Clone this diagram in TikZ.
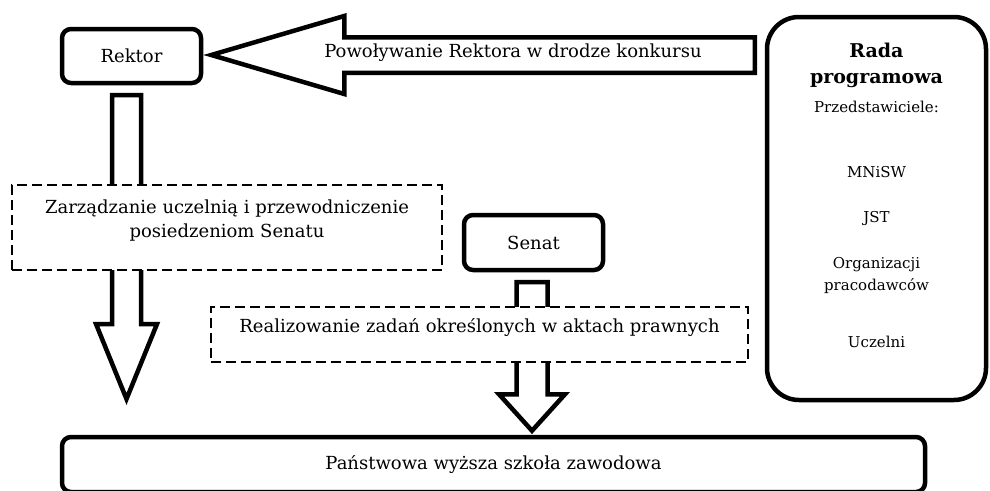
\documentclass[tikz,border=0pt]{standalone}
\usepackage{fontspec}
\setmainfont{DejaVu Serif}
\usepackage{tikz}
\usetikzlibrary{calc,positioning}

\newcommand{\lbl}{\fontsize{18pt}{24pt}\selectfont}
\newcommand{\radalbl}{\fontsize{15pt}{22pt}\selectfont}
\newcommand{\radahead}{\fontsize{19pt}{22pt}\selectfont\bfseries}

% block arrows: #1 tail, #2 tip, #3 half shaft, #4 half head, #5 head length
\newcommand{\leftblockarrow}[5]{%
  \draw[blockarrow] let \p1=(#1), \p2=(#2) in
    (\x1,\y1+#3) -- (\x2+#5,\y1+#3) -- (\x2+#5,\y1+#4) -- (\x2,\y1)
    -- (\x2+#5,\y1-#4) -- (\x2+#5,\y1-#3) -- (\x1,\y1-#3) -- cycle;}
\newcommand{\downblockarrow}[5]{%
  \draw[blockarrow] let \p1=(#1), \p2=(#2) in
    (\x1-#3,\y1) -- (\x1-#3,\y2+#5) -- (\x1-#4,\y2+#5) -- (\x1,\y2)
    -- (\x1+#4,\y2+#5) -- (\x1+#3,\y2+#5) -- (\x1+#3,\y1) -- cycle;}

\tikzset{
  box/.style={draw, line width=4.5pt, rounded corners=9pt, fill=white, align=center, inner sep=0pt},
  dashbox/.style={draw, line width=1.3pt, dash pattern=on 10pt off 5pt, fill=white, align=center, inner sep=0pt},
  blockarrow/.style={draw, line width=4.5pt, fill=white, line join=miter},
}

\begin{document}
\begin{tikzpicture}[x=1pt, y=-1pt, font=\lbl]
\useasboundingbox (0,0) rectangle (990,490);

% Boxes
\node[box, minimum width=139pt, minimum height=54pt] (rektor) at (131.5,56) {Rektor};
\node[box, rounded corners=32pt, minimum width=219pt, minimum height=383pt] (rada) at (876.5,208.5) {};
\node[box, minimum width=139pt, minimum height=55pt] (senat) at (533.5,242.5) {Senat};
\node[box, minimum width=863pt, minimum height=55pt] (szkola) at (493.5,464.5) {Państwowa wyższa szkoła zawodowa};

% Arrows
\coordinate (powtail) at (754.75,55);
\coordinate (powtip) at ($(rektor.east)+(8,0)$);
\leftblockarrow{powtail}{powtip}{17.75pt}{39pt}{133pt}

\coordinate (rektorout) at (126.5,95);
\coordinate (rektortip) at (126.5,399);
\downblockarrow{rektorout}{rektortip}{14.5pt}{30.5pt}{75pt}

\coordinate (senatout) at (532,282);
\coordinate (senattip) at ($(szkola.north -| senatout)+(0,-4)$);
\downblockarrow{senatout}{senattip}{15.5pt}{33pt}{36.5pt}

% Dashed boxes
\node[dashbox, minimum width=430pt, minimum height=85pt] (zarz) at (227,227.5)
  {Zarządzanie uczelnią i przewodniczenie\\posiedzeniom Senatu\\[-6pt]\mbox{}};
\node[dashbox, minimum width=537pt, minimum height=55pt] (real) at (479.5,334.5)
  {Realizowanie zadań określonych w aktach prawnych\\[-6pt]\mbox{}};

% Texts
\node (powtxt) at (513,53) {Powoływanie Rektora w drodze konkursu};
\node[font=\radalbl, align=center, anchor=north] (radatxt) at (rada.north |- 0,40)
  {{\radahead Rada}\\[4pt]{\radahead programowa}\\[7pt]Przedstawiciele:\\[43pt]MNiSW\\[23pt]JST\\[24pt]Organizacji\\pracodawców\\[35pt]Uczelni};
\end{tikzpicture}
\end{document}
